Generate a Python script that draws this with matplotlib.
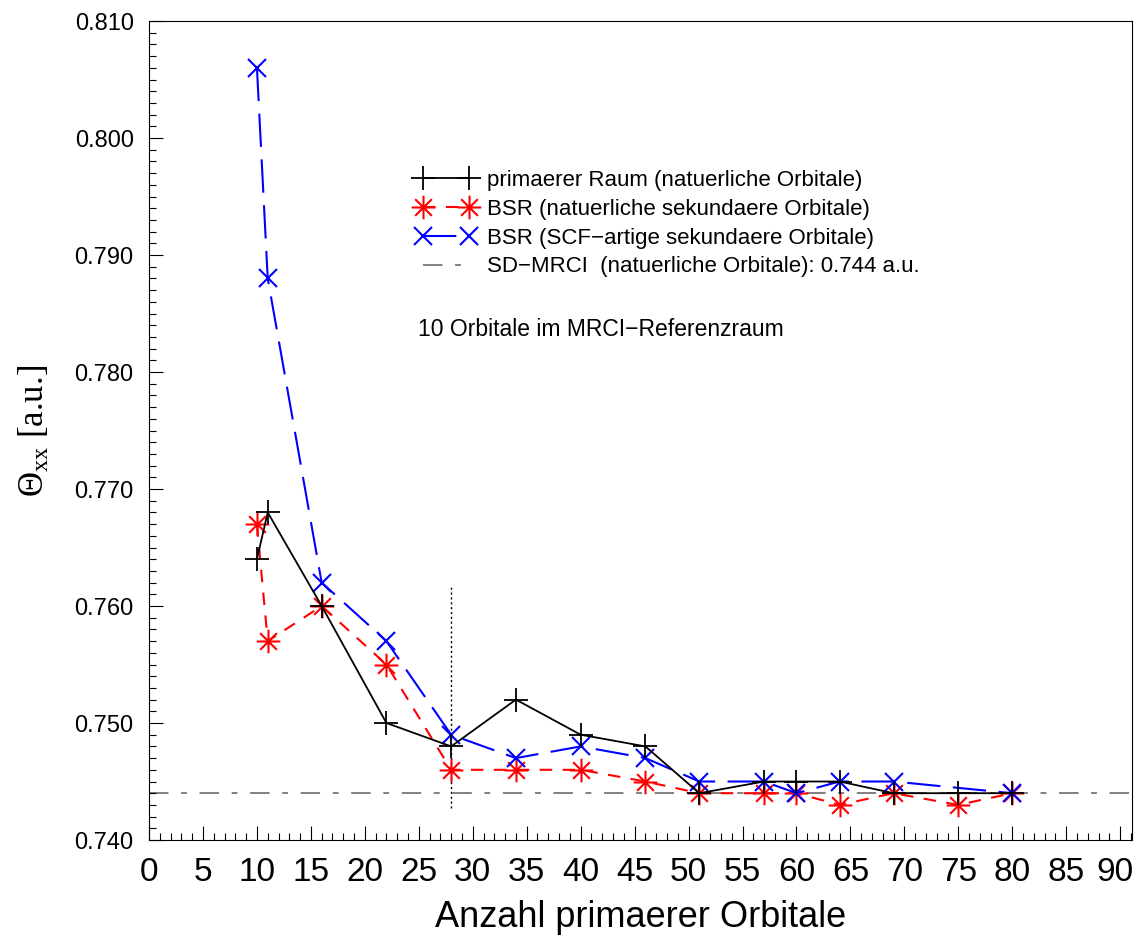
import numpy as np
import matplotlib
matplotlib.use("Agg")
import matplotlib.pyplot as plt
from matplotlib.path import Path
from matplotlib.transforms import ScaledTranslation
from matplotlib.ticker import MultipleLocator, FormatStrFormatter

plt.rcParams['font.family'] = ['Liberation Sans', 'DejaVu Sans']
plt.rcParams['mathtext.fontset'] = 'custom'
plt.rcParams['mathtext.rm'] = 'Liberation Serif'
plt.rcParams['mathtext.it'] = 'Liberation Serif:italic'

# Data
x_prim = [10, 11, 16, 22, 28, 34, 40, 46, 51, 57, 60, 64, 69, 75, 80]
y_prim = [0.764, 0.768, 0.760, 0.750, 0.748, 0.752, 0.749, 0.748, 0.744,
          0.745, 0.745, 0.745, 0.744, 0.744, 0.744]

x_bsr_nat = [10, 11, 16, 22, 28, 34, 40, 46, 51, 57, 60, 64, 69, 75, 80]
y_bsr_nat = [0.767, 0.757, 0.760, 0.755, 0.746, 0.746, 0.746, 0.745, 0.744,
             0.744, 0.744, 0.743, 0.744, 0.743, 0.744]

x_bsr_scf = [10, 11, 16, 22, 28, 34, 40, 46, 51, 57, 60, 64, 69, 80]
y_bsr_scf = [0.806, 0.788, 0.762, 0.757, 0.749, 0.747, 0.748, 0.747, 0.745,
             0.745, 0.744, 0.745, 0.745, 0.744]

x_ticks = list(range(0, 91, 5))

mrci_ref = 0.744
marker_line_x = 28
marker_line_y = [0.7427, 0.7616]

# 8-armed asterisk marker (+ and x combined)
d = 0.7071
star = Path([(-1, 0), (1, 0), (0, -1), (0, 1), (-d, -d), (d, d), (-d, d), (d, -d)],
            [Path.MOVETO, Path.LINETO] * 4)

fig = plt.figure(figsize=(11.35, 9.35), dpi=100)
ax = fig.add_axes([0.1313, 0.1016, 0.8661, 0.8759])

ax.axhline(mrci_ref, color='#808080', lw=1.4, dashes=(10, 6.5, 3, 6.5),
           label='SD\u2212MRCI  (natuerliche Orbitale): 0.744 a.u.', zorder=1)
ax.plot([marker_line_x, marker_line_x], marker_line_y, color='black', lw=1.0,
        linestyle=(0, (1.5, 2)), zorder=1)

ax.plot(x_prim, y_prim, color='black', lw=1.3, marker='+', ms=17, mew=1.3,
        label='primaerer Raum (natuerliche Orbitale)', zorder=3)
ax.plot(x_bsr_nat, y_bsr_nat, color='red', lw=1.5, dashes=(6, 5), marker=star,
        ms=17, mew=1.5, label='BSR (natuerliche sekundaere Orbitale)', zorder=2)
ax.plot(x_bsr_scf, y_bsr_scf, color='blue', lw=1.5, dashes=(16, 6), marker='x',
        ms=12.5, mew=1.5, label='BSR (SCF\u2212artige sekundaere Orbitale)', zorder=2)

ax.set_xlim(0, 91.1)
ax.set_ylim(0.740, 0.810)

ax.set_xticks(x_ticks)
ax.xaxis.set_minor_locator(MultipleLocator(1))
ax.yaxis.set_major_locator(MultipleLocator(0.01))
ax.yaxis.set_minor_locator(MultipleLocator(0.001))
ax.yaxis.set_major_formatter(FormatStrFormatter('%.3f'))

ax.tick_params(which='both', direction='in', top=False, right=False)
ax.tick_params(which='major', length=10, width=0.8)
ax.tick_params(which='minor', length=5, width=0.8)
ax.tick_params(axis='x', labelsize=24, pad=12)
ax.tick_params(axis='y', labelsize=17, pad=11)

# keep the last x label ("90") inside the figure edge
last = ax.xaxis.get_major_ticks()[-1].label1
last.set_transform(last.get_transform() +
                   ScaledTranslation(-4 / 72, 0, fig.dpi_scale_trans))

ax.set_xlabel('Anzahl primaerer Orbitale', fontsize=26, labelpad=9)
ax.set_ylabel(r'$\Theta_{\mathrm{xx}}$ [a.u.]', fontsize=25, labelpad=16,
              family='Liberation Serif')

ax.text(24.9, 0.7836, '10 Orbitale im MRCI\u2212Referenzraum', fontsize=16.5,
        va='center')

handles, labels = ax.get_legend_handles_labels()
order = [1, 2, 3, 0]
ax.legend([handles[i] for i in order], [labels[i] for i in order],
          loc='upper left', bbox_to_anchor=(0.2716, 0.818), frameon=False,
          fontsize=16, handlelength=2.7, handletextpad=0.5, labelspacing=0.35,
          borderaxespad=0, borderpad=0, numpoints=2)

fig.savefig('out.png', dpi=100)
